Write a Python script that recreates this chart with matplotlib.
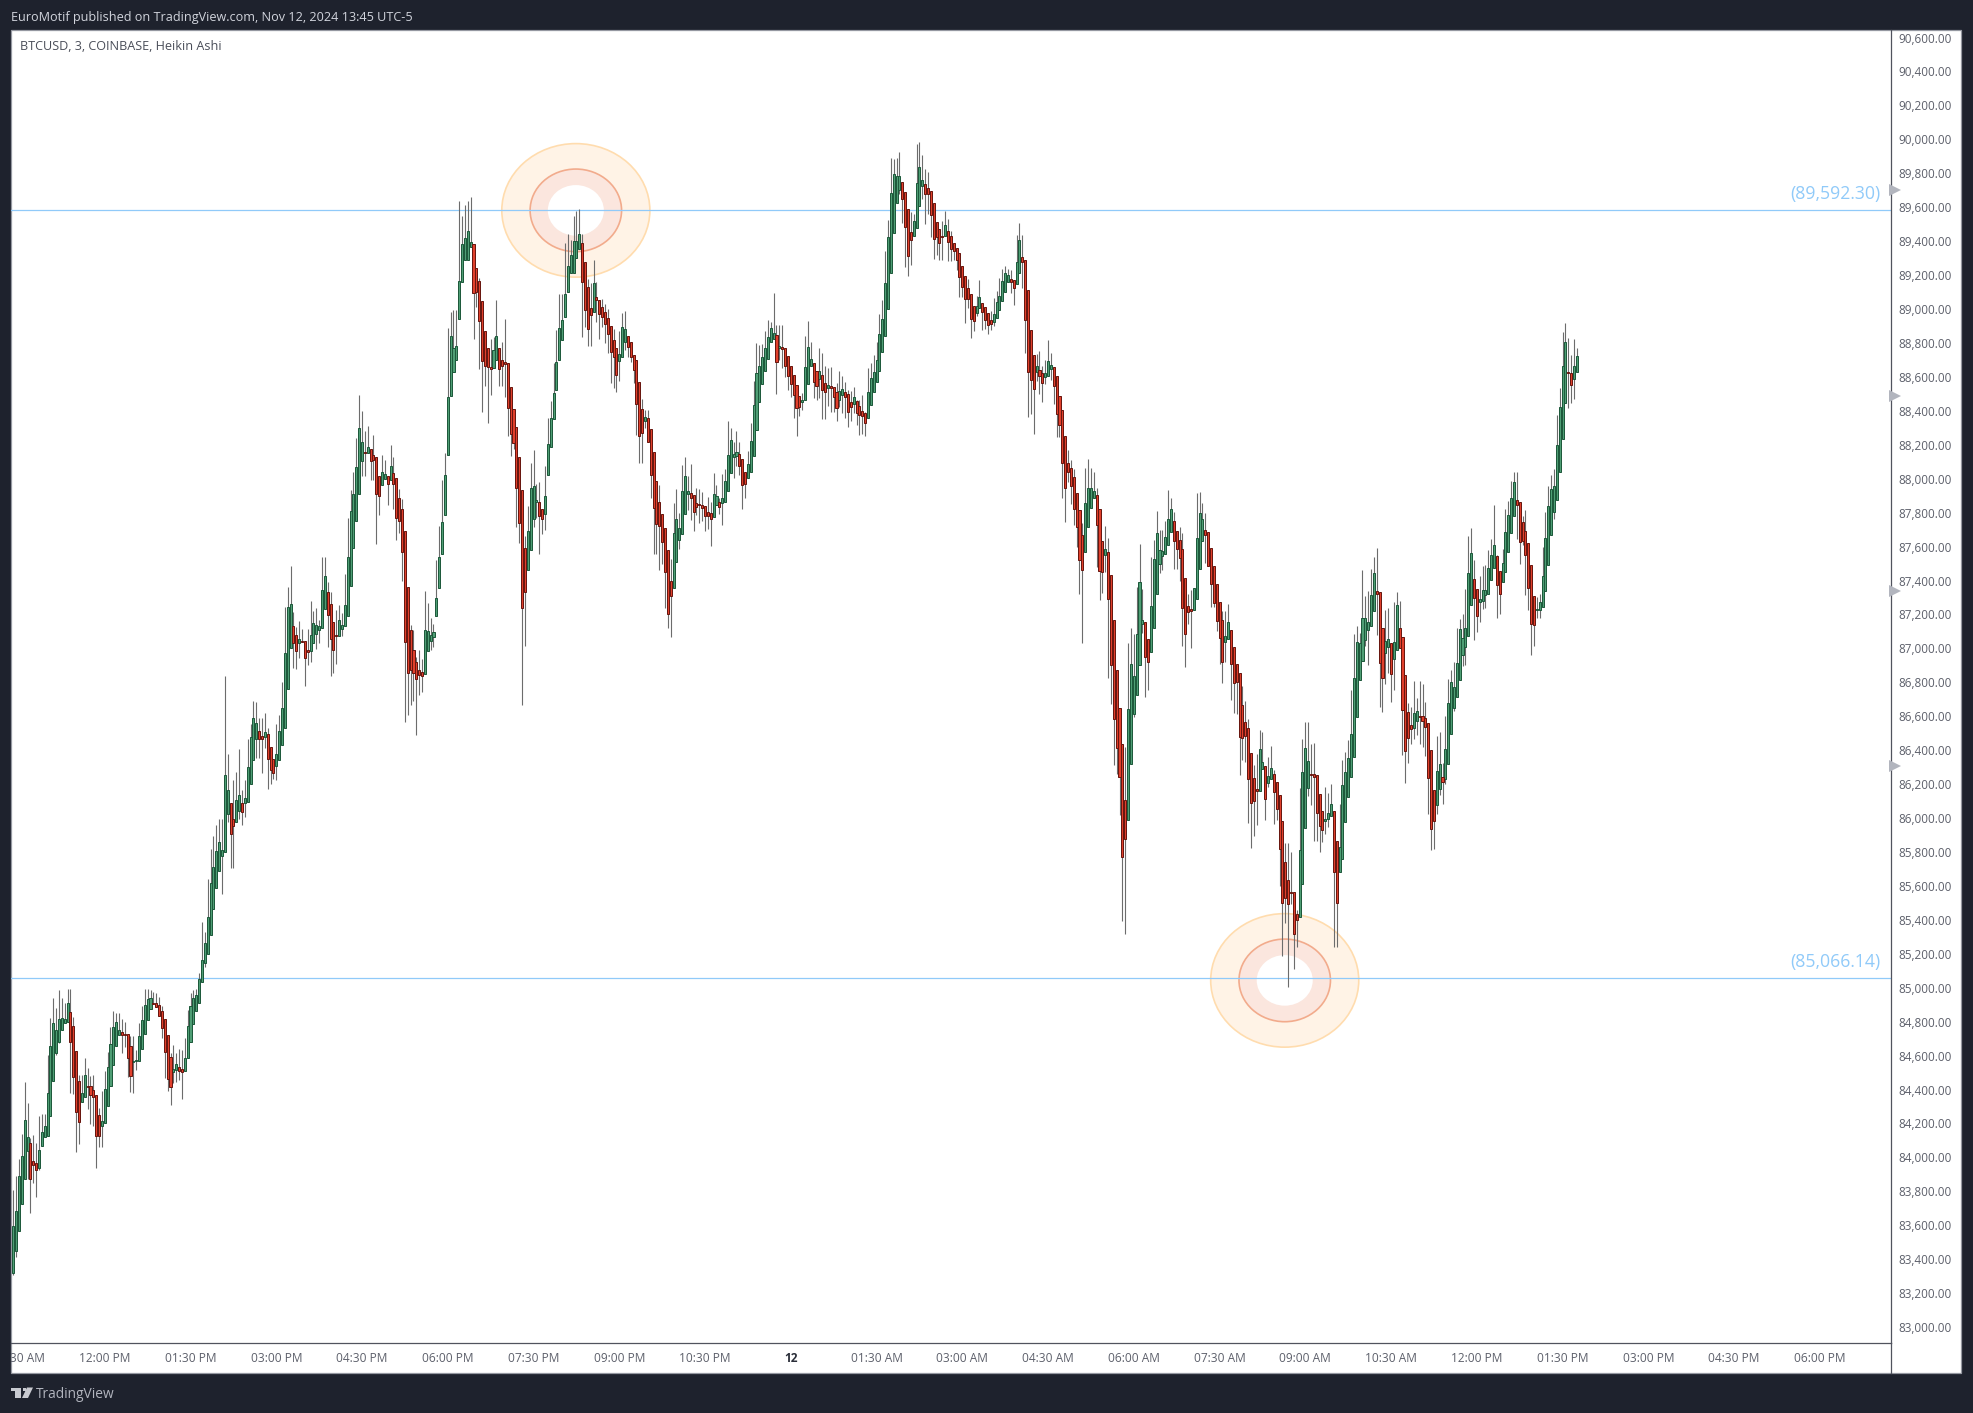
import numpy as np
import matplotlib
matplotlib.use("Agg")
import matplotlib.pyplot as plt
from matplotlib.lines import Line2D
from matplotlib.patches import Ellipse, Rectangle, Polygon
from matplotlib.transforms import Bbox, ScaledTranslation

# Heikin Ashi candles, 3 minute bars
body_tops = [
    83606,83692,83899,84022,84229,84129,84093,83987,83975,84052,
    84158,84193,84388,84665,84801,84759,84824,84834,84828,84918,
    84865,84783,84636,84459,84388,84494,84429,84429,84406,84380,
    84258,84223,84412,84545,84681,84777,84806,84759,84748,84736,
    84736,84665,84579,84584,84724,84818,84907,84944,84948,84918,
    84918,84907,84871,84824,84730,84600,84529,84559,84541,84529,
    84594,84785,84901,84948,84966,85060,
    85173,85274,85425,85628,85725,85816,85867,85825,86264,86174,
    86102,86007,86120,86149,86102,86127,86314,86486,86598,86569,
    86522,86497,86515,86504,86427,86361,86386,86522,86657,86986,
    87253,87271,87140,87092,87065,87052,87052,87004,87092,87158,
    87147,87142,87352,87435,87343,87275,87169,87090,87176,87147,
    87264,87548,87819,87918,88078,88308,88225,88166,88200,88184,
    88148,88137,88024,88049,88040,88024,88083,88042,88013,87896,
    87830,87700,87375,87121,87003,86930,86885,86871,87121,87115,
    87090,87110,87307,87547,87758,88035,88492,88850,88779,88790,
    89178,89391,89427,89468,89408,89391,89251,89178,89056,88879,
    88779,88668,88767,88850,88779,88713,88699,88693,88554,88419,
    88318,88136,87942,87601,87702,87958,87965,87888,87876,87834,
    87911,88213,88366,88513,88701,88901,88943,89098,89267,89327,
    89410,89414,89451,89402,89286,89143,89019,89162,89079,89065,
    89023,88994,88955,88908,88831,88779,88748,88905,88891,88854,
    88819,88740,88713,88583,
    88420,88377,88367,88302,88166,87999,87872,87801,87718,87589,
    87406,87689,87771,87718,87936,88025,87936,87927,87913,87866,
    87860,87854,87848,87817,87807,87919,87907,87875,87895,87995,
    88149,88237,88155,88166,88155,88125,88048,88096,88231,88443,
    88632,88673,88726,88779,88844,88897,88868,88856,88791,88785,
    88779,88732,88673,88620,88561,88496,88473,88667,88785,88715,
    88695,88644,88644,88620,88573,88561,88555,88553,88520,88530,
    88538,88520,88508,88461,88490,88467,88437,88408,88396,88520,
    88603,88638,88709,88862,88950,89163,89434,89693,89805,89793,89797,
    89757,89703,89598,89463,89529,89751,89845,89772,89748,89721,
    89709,89634,89526,89481,89442,89505,89469,89439,89399,89372,
    89339,89267,89204,89132,89102,89030,89030,89084,89045,89021,
    88985,88948,88979,89054,89090,89177,89225,89210,89186,89183,
    89285,89415,89315,89297,89120,88885,88738,88672,88654,88636,
    88636,88702,88681,88666,88615,88500,88413,88263,88106,88076,
    88019,87926,87824,87676,87866,87953,87953,87941,87917,87830,
    87646,87598,87577,87442,87177,86886,86657,86450,86119,86651,
    86916,86846,87093,87400,87176,87164,87064,87258,87535,87689,
    87592,87582,87665,87771,87830,87759,87700,87647,87598,87423,
    87258,87241,87368,87659,87806,87771,87706,87694,87600,87494,
    87388,87282,87176,87081,87164,87117,87017,86918,86863,86675,
    86574,86539,86392,86244,86179,86415,86339,86315,86256,86303,
    86268,86221,86144,85991,85749,85643,85572,85572,85446,85820,
    86280,86421,86344,86268,86268,86262,86150,86054,86008,86038,
    86091,86054,85873,85838,86203,86280,86362,86504,86834,87046,
    87045,87187,87187,87164,87324,87454,87346,87340,87133,87057,
    87063,87045,87051,87264,87133,87076,86856,86633,86557,86627,
    86639,86610,86610,86598,86573,86410,86178,86286,86327,86255,
    86420,86687,86815,86786,86927,87123,87069,87133,87452,87570,
    87417,87363,87299,87353,87353,87487,87559,87617,87553,87464,
    87512,87694,87799,87894,87990,87886,87872,87754,87700,87630,
    87500,87322,87245,87282,87437,87659,87847,87948,87965,88207,
    88436,88672,88815,88637,88631,88672,88732,
]
body_bottoms = [
    83327,83460,83578,83739,83881,84050,83881,83967,83934,83948,
    84079,84133,84134,84256,84463,84628,84693,84759,84801,84810,
    84693,84486,84280,84221,84339,84364,84427,84380,84364,84134,
    84134,84193,84211,84311,84429,84553,84665,84732,84730,84730,
    84594,84488,84575,84577,84577,84651,84736,84822,84883,84917,
    84895,84842,84771,84630,84470,84423,84512,84527,84522,84512,
    84520,84594,84689,84795,84871,84918,
    85042,85157,85211,85319,85473,85597,85700,85786,85809,86034,
    85915,85962,85985,86052,86046,86102,86104,86210,86350,86474,
    86474,86474,86486,86357,86292,86278,86319,86350,86440,86544,
    86770,87011,87045,86993,87045,87050,86953,86989,86993,87045,
    87097,87119,87133,87241,87205,87068,87004,87083,87081,87126,
    87142,87203,87377,87600,87760,87920,88114,88162,88162,88114,
    88119,87918,87911,87972,88006,87979,88002,87977,87778,87760,
    87576,87050,86868,86881,86868,86833,86854,86850,86862,86993,
    87057,87077,87199,87369,87565,87799,88149,88496,88637,88713,
    88951,89168,89298,89298,89379,89104,89108,88939,88707,88672,
    88668,88655,88661,88713,88655,88672,88684,88430,88275,88219,
    87954,87752,87251,87344,87470,87588,87772,87871,87789,87772,
    87805,88035,88200,88360,88531,88713,88827,88961,89112,89222,
    89220,89313,89365,89168,89003,88891,88974,88996,89063,88984,
    88961,88920,88862,88755,88726,88620,88703,88726,88817,88786,
    88728,88653,88448,88260,
    88282,88353,88229,88033,87836,87742,87730,87640,87463,87215,
    87321,87365,87522,87648,87683,87805,87919,87899,87817,87846,
    87856,87840,87793,87791,87771,87787,87856,87846,87866,87875,
    87936,88043,88137,88147,88088,87972,87978,88013,88052,88143,
    88296,88461,88567,88648,88717,88815,88836,88701,88779,88773,
    88677,88618,88567,88504,88426,88436,88465,88473,88567,88677,
    88583,88555,88597,88532,88520,88548,88548,88491,88430,88475,
    88504,88495,88406,88436,88449,88400,88384,88382,88337,88367,
    88443,88524,88583,88644,88756,88850,89009,89222,89457,89634,89713,
    89658,89493,89321,89418,89439,89490,89616,89736,89691,89691,
    89562,89421,89436,89399,89433,89442,89403,89366,89354,89297,
    89198,89141,89069,89069,88954,88942,88985,89015,88991,88948,
    88918,88921,88936,88960,89003,89057,89108,89168,89171,89135,
    89156,89225,89285,88945,88642,88591,88542,88639,88618,88573,
    88612,88618,88660,88558,88389,88326,88101,87953,88049,87965,
    87830,87728,87529,87475,87577,87725,87836,87896,87737,87469,
    87463,87559,87301,86910,86597,86423,86251,85779,85890,86002,
    86327,86624,86736,86910,87156,86958,86928,86991,87129,87329,
    87510,87553,87565,87618,87694,87641,87594,87545,87246,87093,
    87223,87229,87235,87299,87480,87641,87677,87498,87388,87280,
    87170,87074,86928,87050,87064,86920,86808,86810,86486,86480,
    86496,86238,86097,86113,86168,86172,86297,86124,86219,86238,
    86166,86067,85830,85513,85537,85507,85570,85329,85407,85429,
    85625,85955,86185,86262,86254,86038,85961,85938,85995,86003,
    86022,85690,85513,85690,85767,85985,86132,86250,86372,86604,
    86823,86937,87061,87119,87144,87233,87332,86927,86834,86985,
    87016,86860,86951,87003,87013,86645,86408,86480,86536,86544,
    86583,86608,86583,86550,86244,85948,85996,86085,86182,86221,
    86238,86327,86509,86662,86726,86827,86974,87020,87082,87264,
    87309,87200,87282,87291,87324,87334,87411,87487,87382,87334,
    87400,87458,87576,87688,87789,87857,87636,87644,87559,87369,
    87152,87146,87235,87239,87255,87346,87500,87677,87812,87888,
    88048,88242,88455,88635,88560,88596,88637,
]
highs = [
    83818,83901,84001,84148,84455,84329,84123,84142,84093,84254,
    84264,84266,84614,84834,84950,84891,84997,84950,84918,85003,
    85003,84840,84640,84496,84496,84596,84537,84490,84496,84380,
    84301,84402,84518,84632,84779,84873,84863,84860,84828,84810,
    84736,84726,84726,84643,84801,84901,85003,85003,84997,84987,
    84977,84954,84903,84824,84730,84624,84673,84624,84649,84643,
    84712,84879,84977,84997,85001,85100,
    85398,85342,85651,85827,85906,85969,86007,86007,86849,86391,
    86102,86233,86282,86418,86176,86237,86477,86565,86700,86695,
    86598,86598,86628,86544,86427,86361,86565,86616,86813,87255,
    87372,87496,87226,87135,87171,87124,87052,87124,87291,87230,
    87248,87180,87550,87550,87399,87343,87169,87237,87266,87219,
    87447,87778,87943,88051,88252,88505,88410,88290,88320,88184,
    88268,88137,88024,88150,88121,88024,88207,88139,88013,87947,
    87892,87700,87375,87148,87117,86957,87001,86951,87348,87276,
    87189,87154,87530,87731,88002,88161,88901,88996,89005,89005,
    89650,89557,89623,89650,89671,89391,89251,89195,89056,88879,
    88779,88833,88843,89061,88779,88817,88951,88693,88554,88419,
    88318,88136,87942,87671,87851,88103,88178,87979,87991,87834,
    88084,88368,88467,88693,88885,89102,89102,89402,89453,89416,
    89557,89588,89598,89453,89286,89185,89164,89298,89168,89065,
    89071,89040,89009,88908,88895,88779,88879,88988,88999,88854,
    88819,88740,88713,88583,
    88479,88416,88416,88302,88166,87999,87974,87801,87718,87589,
    87538,87868,87950,87811,88092,88139,88029,88098,87913,87954,
    87950,87931,87848,87903,87872,88044,87974,87895,88037,88068,
    88351,88308,88225,88292,88229,88125,88048,88174,88337,88585,
    88809,88799,88805,88882,88946,88937,89104,88917,88915,88915,
    88779,88732,88673,88620,88561,88496,88518,88852,88941,88819,
    88695,88644,88779,88750,88677,88665,88671,88553,88573,88646,
    88618,88579,88534,88528,88549,88475,88475,88504,88406,88665,
    88691,88740,88819,88982,89064,89353,89536,89903,89896,89903,89935,
    89757,89703,89598,89580,89571,89983,89995,89917,89833,89821,
    89709,89634,89526,89481,89532,89586,89541,89472,89399,89372,
    89339,89267,89204,89189,89102,89030,89087,89183,89045,89021,
    88985,89000,89078,89114,89195,89249,89264,89249,89240,89183,
    89448,89520,89448,89297,89120,88885,88738,88744,88765,88675,
    88711,88831,88750,88669,88615,88500,88413,88263,88182,88119,
    88067,87926,87824,87752,88076,88128,88076,88052,87956,87830,
    87646,87731,87661,87442,87177,86886,86657,86450,86429,87042,
    87129,87095,87370,87626,87358,87164,87064,87547,87649,87818,
    87708,87708,87761,87944,87897,87812,87700,87728,87689,87423,
    87331,87355,87368,87924,87930,87865,87806,87694,87600,87494,
    87388,87282,87233,87231,87272,87117,87017,86918,86863,86789,
    86700,86592,86392,86323,86388,86529,86519,86315,86372,86435,
    86293,86221,86144,85991,85861,85861,85812,85572,85468,86185,
    86474,86574,86574,86445,86451,86262,86150,86054,86191,86158,
    86211,86054,85873,86093,86352,86401,86470,86765,87095,87142,
    87100,87473,87320,87351,87479,87551,87601,87340,87133,87237,
    87247,87045,87284,87342,87289,87076,86856,86689,86668,86817,
    86720,86817,86800,86693,86573,86410,86178,86492,86515,86337,
    86610,86829,86883,86933,87133,87181,87216,87361,87673,87721,
    87530,87363,87437,87495,87502,87590,87655,87855,87562,87464,
    87599,87830,87882,88000,88050,88050,87872,87791,87824,87630,
    87500,87322,87313,87330,87607,87814,87965,88033,88070,88385,
    88546,88875,88928,88840,88740,88833,88782,
]
lows = [
    83317,83421,83578,83739,83881,83881,83684,83861,83779,83936,
    84079,84133,84134,84256,84463,84616,84687,84759,84801,84810,
    84392,84384,84044,84091,84339,84364,84298,84207,84195,83950,
    84070,84074,84211,84311,84429,84553,84665,84732,84628,84663,
    84482,84398,84392,84526,84577,84651,84736,84822,84883,84917,
    84895,84842,84712,84476,84404,84321,84451,84457,84467,84357,
    84520,84594,84689,84795,84871,84918,
    85042,85132,85211,85319,85473,85597,85700,85565,85809,85985,
    85714,85714,85985,86007,85967,86018,86104,86210,86350,86364,
    86362,86278,86425,86183,86210,86240,86233,86350,86440,86544,
    86770,87011,86896,86887,86955,87050,86790,86914,86928,87045,
    87009,87045,87133,87241,87018,86846,86867,86921,87081,87083,
    87142,87203,87377,87600,87760,87920,88024,88024,88162,88004,
    88004,87623,87796,87972,88006,87857,88002,87835,87650,87690,
    87406,86579,86620,86678,86701,86500,86738,86751,86862,86993,
    87003,87019,87199,87369,87565,87799,88149,88496,88637,88713,
    88951,89168,89298,89298,89379,88833,89023,88657,88405,88558,
    88341,88506,88661,88713,88558,88558,88492,88264,88147,88186,
    87727,87634,86676,87024,87470,87588,87727,87778,87567,87685,
    87706,88035,88200,88360,88531,88713,88827,88961,89112,89222,
    89220,89313,89365,88848,88905,88792,88792,88996,88937,88833,
    88905,88808,88750,88575,88544,88523,88585,88726,88771,88726,
    88699,88575,88271,88105,
    88102,88308,88229,87895,87567,87565,87473,87508,87251,87133,
    87080,87365,87522,87596,87683,87805,87826,87767,87705,87797,
    87748,87762,87705,87714,87616,87787,87856,87805,87738,87875,
    87936,88043,88017,88086,88033,87832,87899,88013,88052,88143,
    88296,88461,88567,88648,88717,88815,88836,88512,88711,88661,
    88608,88534,88494,88367,88265,88383,88416,88473,88567,88677,
    88485,88475,88485,88363,88363,88441,88406,88406,88351,88436,
    88396,88367,88318,88353,88396,88327,88268,88272,88265,88367,
    88443,88524,88583,88644,88756,88850,89009,89222,89457,89634,89687,
    89517,89261,89204,89270,89439,89490,89616,89661,89511,89571,
    89436,89306,89330,89300,89300,89442,89294,89291,89300,89240,
    89081,89081,88930,89015,88840,88879,88970,89015,88888,88894,
    88864,88888,88909,88960,89003,89057,89108,89168,89105,89036,
    89156,89225,89135,88750,88374,88392,88275,88585,88509,88464,
    88570,88618,88591,88449,88257,88254,87899,87755,87992,87863,
    87740,87607,87331,87042,87577,87725,87836,87896,87490,87295,
    87337,87460,86835,86684,86323,86272,86029,85406,85325,86002,
    86327,86608,86736,86910,87099,86726,86765,86991,87129,87329,
    87457,87472,87565,87618,87694,87478,87480,87410,87026,86903,
    87154,87015,87235,87299,87480,87641,87512,87498,87252,87252,
    87113,86916,86804,86930,87064,86706,86627,86624,86264,86352,
    86342,85983,85836,85906,85969,86172,86297,85999,86195,86238,
    85977,85999,85610,85199,85390,85016,85507,85120,85252,85429,
    85625,85955,86140,86087,85877,85877,85812,85871,85914,85959,
    86022,85252,85252,85690,85767,85985,86132,86250,86372,86604,
    86823,86937,87026,86912,87144,87233,87092,86668,86633,86803,
    86865,86693,86767,87003,87013,86383,86217,86337,86447,86478,
    86499,86449,86430,86374,86033,85820,85827,86033,86145,86095,
    86213,86327,86509,86643,86726,86827,86906,86912,87082,87264,
    87061,87109,87169,87241,87247,87334,87411,87487,87191,87214,
    87400,87458,87576,87688,87789,87657,87510,87619,87326,87237,
    86972,87026,87189,87189,87255,87346,87500,87677,87775,87888,
    88048,88242,88455,88430,88457,88482,88637,
]
# G closed up, R closed down
directions = (
    "GGGGGGRRRG" "GGGGGGGGGG" "RRRRGGRRRR" "RGGGGGGGRR" "RRGGGGGGGR" "RRRRRRGGRR" "GGGGGG"
    "GGGGGGGGGG" "RRGGRGGGGG" "RRGRRRGGGG" "GGRRGRRRGG" "GGGGRRRRGG" "GGGGGGGRGR" "RRRGGRGRRR"
    "RRRRRRRRGG" "GGGGGGGGGG" "GGGGGRRRRR" "RRGGRRRRRR" "RRRRGGGGRR" "GGGGGGGGGG" "GGGRRRRGRR" "RRRRRRGGGR" "RRRR"
    "RGRRRRRRRR" "RGGGGGGRRR" "RRRRRGGRGG" "GGGGRRRGGG" "GGGGGGGRGR" "RRRRRRGGGG" "RRGRRGRRRG" "GRRRGRRRRG" "GGGGGGGGGGG"
    "RRRRGGGGRR" "RRRRRGRRRR" "RRRRRRGGRR" "RRGGGGGGRR" "GGRRRRRGRR" "GGGRRRRRRR" "RRRRGGGGRR" "RGRRRRRRRG"
    "GGGGGRRGGG" "GGGGGRRRRR" "RRGGGGRRRR" "RRRGGRRRRR" "RRRRRGGRGG" "RRRRRRRRRG" "GGGRRRRRGG" "GRRGGGGGGG"
    "GGGGGGRRRG" "GRGGRRRRRG" "GRRRRRRGGR" "GGGGGGGGGG" "RRGGGGGGRR" "GGGGGRRRRR" "RRGGGGGGGG" "GGGRRGG"
)

level_prices = [89592.30, 85066.14]
level_labels = ["(89,592.30)", "(85,066.14)"]
ring_centers = [(196.8, 89592), (444.8, 85054)]
axis_marks = [89713, 88500, 87350, 86317]

price_ticks = list(range(83000, 90800, 200))
time_ticks = [2 + 30 * k for k in range(22)]
time_labels = ["10:30 AM", "12:00 PM", "01:30 PM", "03:00 PM", "04:30 PM", "06:00 PM",
               "07:30 PM", "09:00 PM", "10:30 PM", "12", "01:30 AM", "03:00 AM",
               "04:30 AM", "06:00 AM", "07:30 AM", "09:00 AM", "10:30 AM", "12:00 PM",
               "01:30 PM", "03:00 PM", "04:30 PM", "06:00 PM"]

assert len(body_tops) == len(body_bottoms) == len(highs) == len(lows) == len(directions)

W, H = 1973, 1413
FONT = "Open Sans"
BG = "#1e222d"


def fx(x):
    return x / W


def fy(y):
    return 1 - y / H


fig = plt.figure(figsize=(W / 100, H / 100), dpi=100, facecolor=BG)

# white panel holding chart plus the two axis strips
fig.patches.append(Rectangle((fx(11), fy(1373)), fx(1961 - 11), (1373 - 30) / H, transform=fig.transFigure,
                             facecolor="white", edgecolor="#9598a1", linewidth=0.9, zorder=-5))
# price axis line runs on through the time strip
fig.add_artist(Line2D([fx(1891), fx(1891)], [fy(1343), fy(1373)], color="#50535e", lw=0.9))

ax = fig.add_axes([fx(11), fy(1343), fx(1891 - 11), (1343 - 30) / H], zorder=2)
ax.set_xlim(-0.804, 656.9)
ax.set_ylim(82917, 90655)
ax.patch.set_alpha(0)

idx = np.arange(len(body_tops))
tops = np.array(body_tops)
bottoms = np.array(body_bottoms)
up = np.array([d == "G" for d in directions])

# rings behind the candles
for cx, cy in ring_centers:
    ax.add_patch(Ellipse((cx, cy), 51.8, 787, facecolor="#fff3e6", edgecolor="#ffdcae", lw=1.2, zorder=1))
    ax.add_patch(Ellipse((cx, cy), 32.0, 487, facecolor="#fbe6de", edgecolor="#f2ab8c", lw=1.2, zorder=1.1))
    ax.add_patch(Ellipse((cx, cy), 19.6, 298, facecolor="white", edgecolor="none", zorder=1.2))

for price, label in zip(level_prices, level_labels):
    ax.axhline(price, color="#90caf9", lw=0.9, zorder=2)
    ax.annotate(label, xy=(1, price), xycoords=("axes fraction", "data"), xytext=(-8, 5),
                textcoords="offset points", ha="right", va="bottom", color="#90caf9",
                fontsize=12.7, family=FONT)

ax.vlines(idx, lows, highs, colors="#6c6c6c", lw=0.8, zorder=3)
ax.bar(idx[up], tops[up] - bottoms[up], 0.72, bottom=bottoms[up], color="#4f9e75",
       edgecolor="#1e5a3c", linewidth=0.72, zorder=4)
ax.bar(idx[~up], tops[~up] - bottoms[~up], 0.72, bottom=bottoms[~up], color="#e0402c",
       edgecolor="#691710", linewidth=0.72, zorder=4)

for price in axis_marks:
    ax.plot(658.3, price, marker=">", ms=8, color="#b2b5be", mew=0, clip_on=False, zorder=5)

for name in ["top", "left"]:
    ax.spines[name].set_visible(False)
for name in ["right", "bottom"]:
    ax.spines[name].set_color("#50535e")
    ax.spines[name].set_linewidth(0.9)

ax.yaxis.tick_right()
ax.set_yticks(price_ticks)
ax.set_yticklabels([f"{p:,.2f}" for p in price_ticks], fontsize=8.5, family=FONT, color="#5d606b")
ax.set_xticks(time_ticks)
ax.set_xticklabels(time_labels, fontsize=8.6, family=FONT, color="#5d606b")
ax.tick_params(axis="y", length=0, pad=5.5)
ax.tick_params(axis="x", length=0, pad=6.5)

# price labels sit a little above their level
nudge = ScaledTranslation(0, 1.3 / 72, fig.dpi_scale_trans)
for label in ax.get_yticklabels():
    label.set_transform(label.get_transform() + nudge)

# left label is cut off by the chart edge, the day marker is bold
xlabels = ax.get_xticklabels()
xlabels[0].set_clip_box(Bbox([[11, 0], [W, H]]))
xlabels[0].set_clip_on(True)
xlabels[9].set_fontweight("bold")
xlabels[9].set_color("#2a2e39")

fig.text(fx(11), fy(18), "EuroMotif published on TradingView.com, Nov 12, 2024 13:45 UTC-5",
         color="#d1d4dc", fontsize=9.05, family=FONT, va="center", ha="left")
fig.text(fx(20), fy(47), "BTCUSD, 3, COINBASE, Heikin Ashi", color="#4a4e59", fontsize=9.05,
         family=FONT, va="center", ha="left")
fig.text(fx(36), fy(1395), "TradingView", color="#b2b5be", fontsize=9.9, family=FONT,
         va="center", ha="left")

# TradingView logo
logo = "#c8cad0"
fig.patches.append(Polygon([(fx(11), fy(1387.5)), (fx(21), fy(1387.5)), (fx(21), fy(1398)), (fx(15), fy(1398)),
                            (fx(15), fy(1391)), (fx(11), fy(1391))], closed=True,
                           transform=fig.transFigure, facecolor=logo, edgecolor="none"))
fig.patches.append(Polygon([(fx(27), fy(1387.5)), (fx(33), fy(1387.5)), (fx(28), fy(1398)), (fx(22), fy(1398))],
                           closed=True, transform=fig.transFigure, facecolor=logo, edgecolor="none"))
fig.patches.append(Rectangle((fx(22.5), fy(1391)), 3 / W, 3.2 / H, transform=fig.transFigure,
                             facecolor=logo, edgecolor="none"))

fig.savefig("out.png", dpi=100, facecolor=BG)
